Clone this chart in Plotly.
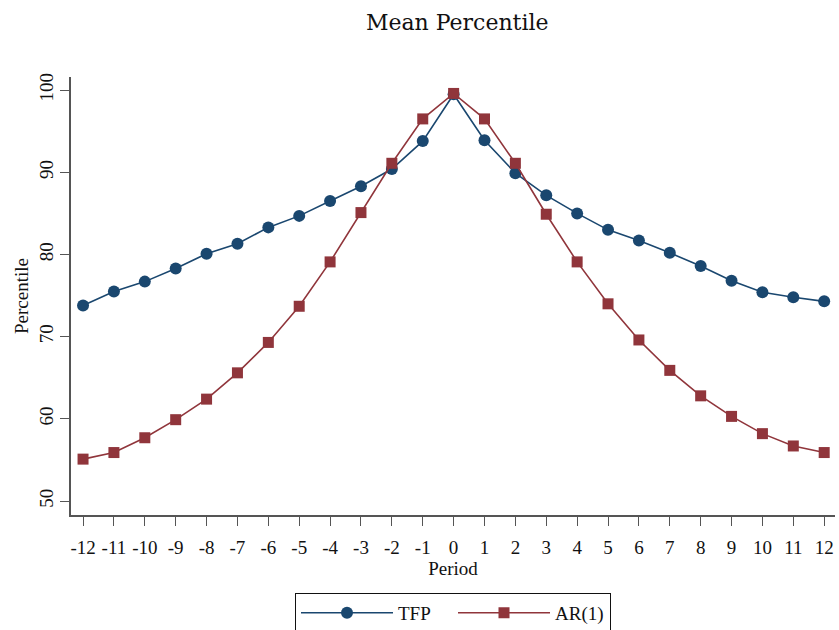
import plotly.graph_objects as go

# Event-time periods relative to the event
periods = list(range(-12, 13))
tick_labels = [str(p) for p in periods]

# Mean percentile by period
tfp = [73.8, 75.5, 76.7, 78.3, 80.1, 81.3, 83.3, 84.7, 86.5, 88.3, 90.4, 93.8, 99.5,
       93.9, 89.9, 87.2, 85.0, 83.0, 81.7, 80.2, 78.6, 76.8, 75.4, 74.8, 74.3]
ar1 = [55.1, 55.9, 57.7, 59.9, 62.4, 65.6, 69.3, 73.7, 79.1, 85.1, 91.1, 96.5, 99.6,
       96.5, 91.1, 84.9, 79.1, 74.0, 69.6, 65.9, 62.8, 60.3, 58.2, 56.7, 55.9]

NAVY = "#1a476f"
MAROON = "#90353b"
FONT = "Liberation Serif"
TITLE_FONT = "DejaVu Serif"

fig = go.Figure()
fig.add_trace(go.Scatter(
    x=periods, y=tfp, name="TFP", mode="lines+markers",
    line=dict(color=NAVY, width=1.6),
    marker=dict(symbol="circle", size=12, color=NAVY),
))
fig.add_trace(go.Scatter(
    x=periods, y=ar1, name="AR(1)", mode="lines+markers",
    line=dict(color=MAROON, width=1.6),
    marker=dict(symbol="square", size=11, color=MAROON),
))

fig.update_layout(
    width=839, height=630,
    paper_bgcolor="white", plot_bgcolor="white",
    margin=dict(l=71, r=4, t=77, b=115),
    font=dict(family=FONT, size=19, color="#111"),
    title=dict(text="Mean Percentile", x=0.545, xanchor="center", y=0.965,
               yanchor="middle", font=dict(family=TITLE_FONT, size=22, color="#111")),
    showlegend=True,
    legend=dict(
        orientation="h", x=0.5, xanchor="center",
        yref="container", y=0.059, yanchor="top",
        bordercolor="#111", borderwidth=1, bgcolor="white",
        font=dict(family=FONT, size=19), itemwidth=92,
        entrywidth=50, entrywidthmode="pixels",
    ),
)

fig.update_xaxes(
    range=[-12.39, 12.35], tickmode="array", tickvals=periods, ticktext=tick_labels,
    showgrid=False, zeroline=False, showline=True, linecolor="#555", linewidth=1.5,
    ticks="outside", ticklen=9, tickcolor="#555", tickwidth=1.2,
    ticklabelstandoff=5,
    tickfont=dict(family=FONT, size=19),
    title=dict(text="Period", font=dict(family=FONT, size=19), standoff=4),
)
fig.update_yaxes(
    range=[48.3, 101.6], tickmode="array", tickvals=[50, 60, 70, 80, 90, 100],
    tickangle=-90,
    showgrid=False, zeroline=False, showline=True, linecolor="#555", linewidth=1.5,
    ticks="outside", ticklen=9, tickcolor="#555", tickwidth=1.2,
    tickfont=dict(family=FONT, size=19),
    title=dict(text="Percentile", font=dict(family=FONT, size=19), standoff=2),
)

fig.write_html("out.html")
